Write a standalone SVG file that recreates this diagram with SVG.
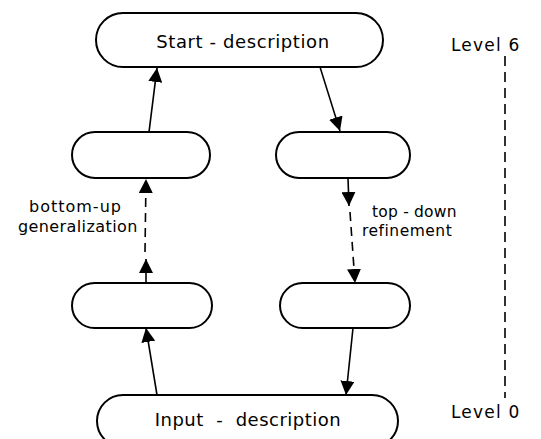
<svg xmlns="http://www.w3.org/2000/svg" width="541" height="439" viewBox="0 0 541 439">
<style>
.node{fill:#fff;stroke:#000;stroke-width:2}
.lbl{font-family:"DejaVu Sans",sans-serif;fill:#000}
.edge{fill:none;stroke:#000;stroke-width:1.6}
.dash{stroke-dasharray:9 6}
</style>
<defs>
<marker id="ah" markerUnits="userSpaceOnUse" markerWidth="16" markerHeight="14" refX="14" refY="7" orient="auto">
<path d="M0,0 L14,7 L0,14 Z" fill="#000"/>
</marker>
</defs>
<rect width="541" height="439" fill="#fff"/>
<g id="start">
<rect class="node" x="96" y="13" width="287" height="54" rx="27"/>
<text class="lbl" x="243" y="48" font-size="18" letter-spacing="0.6" text-anchor="middle">Start - description</text>
</g>
<g id="left-mid"><rect class="node" x="72" y="132" width="138" height="46" rx="23"/></g>
<g id="right-mid"><rect class="node" x="276" y="132" width="134" height="46" rx="23"/></g>
<g id="left-low"><rect class="node" x="72" y="283" width="140" height="45" rx="22.5"/></g>
<g id="right-low"><rect class="node" x="280" y="283" width="130" height="45" rx="22.5"/></g>
<g id="input">
<rect class="node" x="97" y="395" width="301" height="52" rx="26"/>
<text class="lbl" x="248" y="426" font-size="18" letter-spacing="0.5" text-anchor="middle" xml:space="preserve">Input  -  description</text>
</g>
<g id="level">
<text class="lbl" x="451" y="51" font-size="17" letter-spacing="1.2">Level 6</text>
<text class="lbl" x="451" y="418" font-size="17" letter-spacing="1.2">Level 0</text>
<line x1="505" y1="56" x2="505" y2="398" stroke="#000" stroke-width="1.6" stroke-dasharray="10 6"/>
</g>
<g id="labels">
<text class="lbl" x="29" y="212" font-size="16" letter-spacing="1">bottom-up</text>
<text class="lbl" x="18" y="232" font-size="16" letter-spacing="0.4">generalization</text>
<text class="lbl" x="372" y="217" font-size="15.5" letter-spacing="0.2" xml:space="preserve">top - down</text>
<text class="lbl" x="362" y="236" font-size="15.5" letter-spacing="0.5">refinement</text>
</g>
<g id="connectors">
<path class="edge" d="M149,132 L157,68" marker-end="url(#ah)"/>
<path class="edge" d="M320,67 L340,131" marker-end="url(#ah)"/>
<path class="edge" d="M146,283 L146,259" marker-end="url(#ah)"/>
<path class="edge dash" d="M145,252 L146,179" marker-end="url(#ah)"/>
<path class="edge" d="M348,178 L349,206" marker-end="url(#ah)"/>
<path class="edge dash" d="M350,212 L355,283" marker-end="url(#ah)"/>
<path class="edge" d="M157,395 L146,328" marker-end="url(#ah)"/>
<path class="edge" d="M353,328 L346,395" marker-end="url(#ah)"/>
</g>
</svg>
